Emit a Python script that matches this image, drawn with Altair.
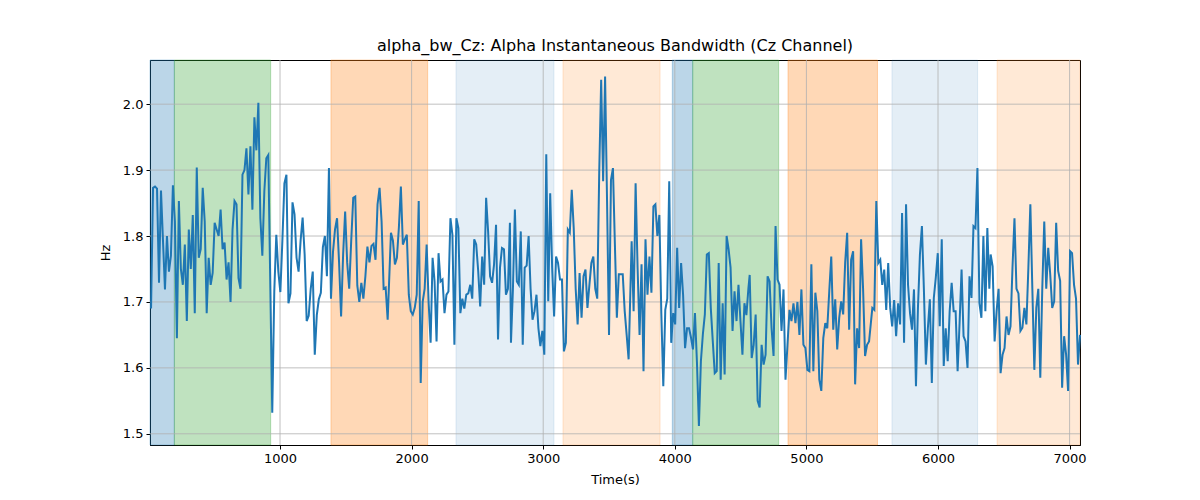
import altair as alt
import numpy as np
import pandas as pd

# ---- data ----
seg_start = [20, 941, 1843, 2755, 3672, 4569, 5501, 6400]
seg_end = [911, 1818, 2747, 3649, 4559, 5476, 6390, 7079]

seg1 = [1.69, 1.873, 1.875, 1.872, 1.729, 1.869, 1.793, 1.719, 1.80, 1.746, 1.77, 1.877, 1.822, 1.645, 1.853,
        1.75, 1.726, 1.787, 1.671, 1.81, 1.75, 1.832, 1.683, 1.904, 1.767, 1.78, 1.873, 1.822, 1.683, 1.767,
        1.726, 1.744, 1.82, 1.81, 1.80, 1.84, 1.78, 1.79, 1.734, 1.76, 1.70, 1.81, 1.853, 1.848, 1.736, 1.72,
        1.893, 1.90, 1.933, 1.863, 1.936, 1.84, 1.98, 1.93, 2.002, 1.827, 1.77, 1.868, 1.918, 1.923]
seg2 = [1.532, 1.716, 1.802, 1.746, 1.715, 1.793, 1.880, 1.893, 1.698, 1.713, 1.851, 1.833, 1.767, 1.746, 1.793,
        1.828, 1.772, 1.671, 1.679, 1.72, 1.746, 1.62, 1.68, 1.704, 1.714, 1.783, 1.80, 1.739, 1.903, 1.705,
        1.776, 1.81, 1.827, 1.76, 1.678, 1.772, 1.837, 1.76, 1.72, 1.793, 1.858, 1.86, 1.725, 1.70, 1.729,
        1.705, 1.739, 1.784, 1.76, 1.785, 1.788, 1.764, 1.848, 1.873, 1.822, 1.72, 1.722, 1.673]
seg3 = [1.805, 1.793, 1.757, 1.767, 1.813, 1.875, 1.787, 1.795, 1.802, 1.711, 1.686, 1.681, 1.691, 1.711, 1.853,
        1.577, 1.70, 1.72, 1.787, 1.70, 1.638, 1.767, 1.731, 1.64, 1.774, 1.731, 1.734, 1.683, 1.711, 1.716,
        1.827, 1.802, 1.635, 1.827, 1.812, 1.683, 1.705, 1.69, 1.711, 1.713, 1.726, 1.705, 1.795, 1.787, 1.747,
        1.693, 1.769, 1.726, 1.858, 1.807, 1.739, 1.729, 1.757, 1.817, 1.643, 1.752, 1.782, 1.78, 1.711, 1.72, 1.82]
seg4 = [1.638, 1.72, 1.84, 1.731, 1.726, 1.807, 1.635, 1.752, 1.755, 1.80, 1.72, 1.673, 1.686, 1.711, 1.66,
        1.633, 1.656, 1.62, 1.924, 1.701, 1.865, 1.752, 1.678, 1.769, 1.759, 1.734, 1.734, 1.625, 1.638, 1.81,
        1.805, 1.87, 1.812, 1.72, 1.666, 1.744, 1.676, 1.739, 1.749, 1.691, 1.726, 1.759, 1.769, 1.72, 1.705,
        1.895, 2.037, 1.883, 2.042, 1.853, 1.65, 1.885, 1.903, 1.787, 1.676, 1.742, 1.742, 1.742, 1.686, 1.65, 1.613]
seg5 = [1.792, 1.686, 1.88, 1.752, 1.65, 1.757, 1.595, 1.795, 1.711, 1.769, 1.714, 1.845, 1.848, 1.80, 1.832,
        1.683, 1.572, 1.688, 1.705, 1.883, 1.638, 1.683, 1.666, 1.782, 1.691, 1.759, 1.711, 1.63, 1.66, 1.66,
        1.646, 1.628, 1.683, 1.609, 1.512, 1.61, 1.651, 1.681, 1.772, 1.774, 1.691, 1.641, 1.592, 1.595, 1.759,
        1.582, 1.698, 1.59, 1.80, 1.78, 1.752, 1.656, 1.716, 1.671, 1.726, 1.671, 1.62, 1.698, 1.68, 1.72]
seg6 = [1.741, 1.615, 1.635, 1.681, 1.55, 1.54, 1.635, 1.605, 1.62, 1.739, 1.731, 1.66, 1.618, 1.815, 1.734,
        1.726, 1.656, 1.719, 1.582, 1.635, 1.688, 1.671, 1.698, 1.668, 1.70, 1.65, 1.719, 1.635, 1.63, 1.597,
        1.595, 1.757, 1.595, 1.714, 1.686, 1.582, 1.565, 1.645, 1.668, 1.66, 1.716, 1.769, 1.658, 1.704, 1.628,
        1.676, 1.701, 1.681, 1.76, 1.805, 1.658, 1.764, 1.777, 1.575, 1.66, 1.63, 1.795, 1.72, 1.618, 1.635, 1.64]
seg7 = [1.691, 1.688, 1.853, 1.759, 1.764, 1.726, 1.749, 1.688, 1.759, 1.691, 1.663, 1.703, 1.648, 1.698, 1.666,
        1.835, 1.638, 1.848, 1.726, 1.683, 1.658, 1.719, 1.572, 1.691, 1.772, 1.815, 1.719, 1.605, 1.66, 1.704,
        1.577, 1.706, 1.737, 1.774, 1.663, 1.795, 1.603, 1.66, 1.61, 1.686, 1.729, 1.686, 1.686, 1.595, 1.668,
        1.749, 1.648, 1.64, 1.60, 1.739, 1.706, 1.815, 1.812, 1.903, 1.698, 1.676, 1.80, 1.686, 1.812, 1.72]
seg8 = [1.772, 1.754, 1.64, 1.686, 1.72, 1.592, 1.62, 1.63, 1.678, 1.65, 1.663, 1.752, 1.827, 1.72, 1.713,
        1.656, 1.661, 1.691, 1.666, 1.752, 1.848, 1.72, 1.597, 1.691, 1.72, 1.585, 1.72, 1.822, 1.72, 1.782,
        1.742, 1.691, 1.701, 1.82, 1.747, 1.732, 1.57, 1.648, 1.62, 1.565, 1.777, 1.774, 1.726, 1.705, 1.605, 1.65]
segments = [seg1, seg2, seg3, seg4, seg5, seg6, seg7, seg8]

span_start = [12, 197, 1387, 2337, 3150, 3981, 4136, 4860, 5650, 6449]
span_end = [197, 929, 2122, 3082, 3888, 4136, 4789, 5540, 6301, 7079]
span_color = ["#1f77b4", "#2ca02c", "#ff7f0e", "#1f77b4", "#ff7f0e",
              "#1f77b4", "#2ca02c", "#ff7f0e", "#1f77b4", "#ff7f0e"]
span_alpha = [0.3, 0.3, 0.3, 0.12, 0.17, 0.3, 0.3, 0.3, 0.12, 0.17]

x_ticks = [1000, 2000, 3000, 4000, 5000, 6000, 7000]
y_ticks = [1.5, 1.6, 1.7, 1.8, 1.9, 2.0]

X_DOM = [12, 7079]
Y_DOM = [1.483, 2.067]

# ---- tables ----
times, vals = [], []
for s, e, seg in zip(seg_start, seg_end, segments):
    times.extend(np.linspace(s, e, len(seg)).tolist())
    vals.extend(seg)
line_df = pd.DataFrame({"t": times, "v": vals})
span_df = pd.DataFrame({"s": span_start, "e": span_end, "c": span_color, "a": span_alpha})
xg_df = pd.DataFrame({"x": x_ticks})
yg_df = pd.DataFrame({"y": y_ticks})

xs = alt.Scale(domain=X_DOM, nice=False, zero=False)
ys = alt.Scale(domain=Y_DOM, nice=False, zero=False)

font = "DejaVu Sans"

xaxis = alt.Axis(values=x_ticks, format="d", grid=False, tickColor="black",
                 domainColor="black", tickSize=4, labelPadding=3, titlePadding=8,
                 labelFont=font, titleFont=font, labelFontSize=13, titleFontSize=13,
                 labelColor="black", titleColor="black", titleFontWeight="normal")
yaxis = alt.Axis(values=y_ticks, format=".1f", grid=False, tickColor="black",
                 domainColor="black", tickSize=4, labelPadding=3, titlePadding=10,
                 labelFont=font, titleFont=font, labelFontSize=13, titleFontSize=13,
                 labelColor="black", titleColor="black", titleFontWeight="normal")

spans = alt.Chart(span_df).mark_rect(strokeWidth=1).encode(
    x=alt.X("s:Q", scale=xs, axis=xaxis, title="Time(s)"),
    x2="e:Q",
    y=alt.value(0),
    y2=alt.value(385),
    fill=alt.Color("c:N", scale=None),
    stroke=alt.Color("c:N", scale=None),
    fillOpacity=alt.Opacity("a:Q", scale=None),
    strokeOpacity=alt.Opacity("a:Q", scale=None),
)

xgrid = alt.Chart(xg_df).mark_rule(color="#b0b0b0", strokeWidth=0.8).encode(
    x=alt.X("x:Q", scale=xs, axis=xaxis, title="Time(s)"), y=alt.value(0), y2=alt.value(385)
)
ygrid = alt.Chart(yg_df).mark_rule(color="#b0b0b0", strokeWidth=0.8).encode(
    y=alt.Y("y:Q", scale=ys, axis=yaxis, title="Hz"), x=alt.value(0), x2=alt.value(930)
)

line = alt.Chart(line_df).mark_line(color="#1f77b4", strokeWidth=2).encode(
    x=alt.X("t:Q", scale=xs, axis=xaxis, title="Time(s)"),
    y=alt.Y("v:Q", scale=ys, axis=yaxis, title="Hz"),
)

chart = alt.layer(spans, xgrid, ygrid, line).properties(
    width=930,
    height=385,
    title=alt.TitleParams("alpha_bw_Cz: Alpha Instantaneous Bandwidth (Cz Channel)",
                          font=font, fontSize=16, fontWeight="normal", color="black",
                          anchor="middle", offset=6),
    autosize=alt.AutoSizeParams(type="none"),
    padding={"left": 142, "top": 52, "right": 112, "bottom": 47},
).configure_view(stroke="black", strokeWidth=1)

chart.save("out.html", embed_options={"renderer": "svg", "actions": False})
